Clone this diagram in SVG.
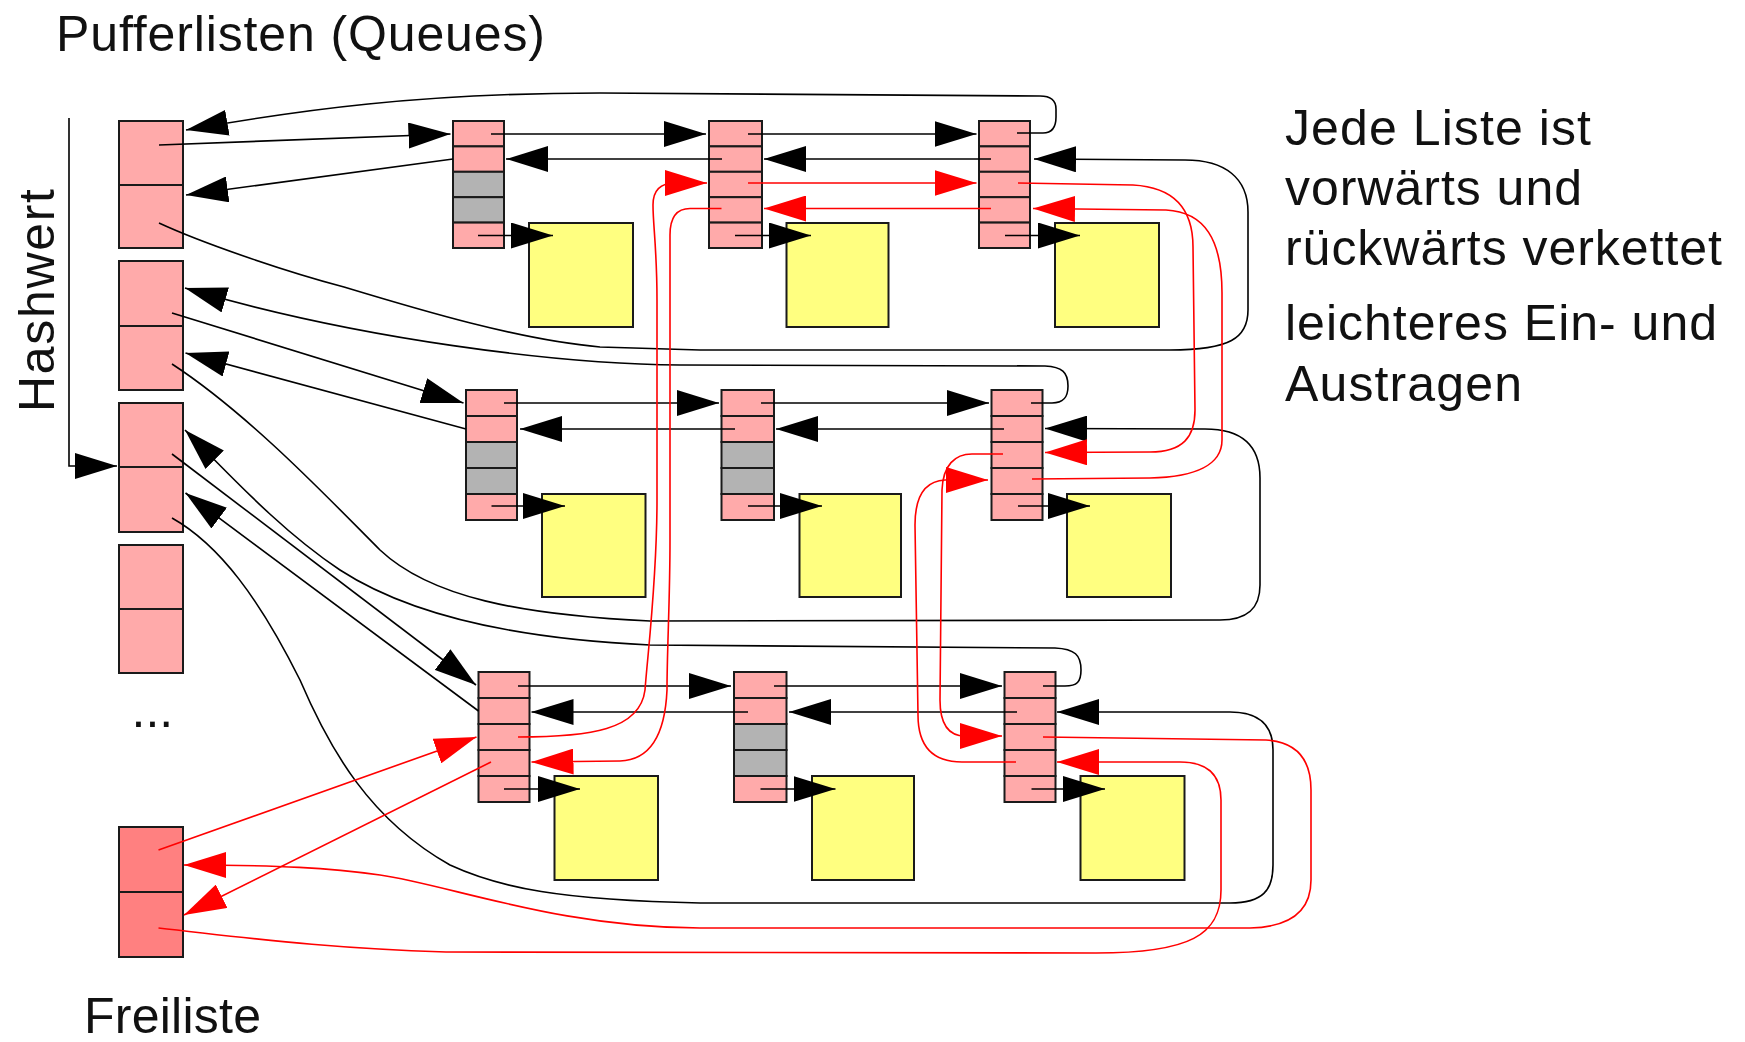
<svg xmlns="http://www.w3.org/2000/svg" width="1745" height="1042" viewBox="0 0 1745 1042">
  <style>
    .cell { fill: #ffaaaa; stroke: #1a1a1a; stroke-width: 2; }
    .grey { fill: #b3b3b3; }
    .free { fill: #ff8080; }
    .data { fill: #ffff80; stroke: #1a1a1a; stroke-width: 2; }
    .bk { fill: none; stroke: #000; stroke-width: 1.6; marker-end: url(#ab); }
    .rd { fill: none; stroke: #ff0000; stroke-width: 1.6; marker-end: url(#ar); }
    .txt { font-family: "Liberation Sans", Arial, Helvetica, sans-serif; font-size: 50px; fill: #111; }
  </style>
  <defs>
    <marker id="ab" markerUnits="userSpaceOnUse" markerWidth="42" markerHeight="26" viewBox="0 0 42 26" refX="42" refY="13" orient="auto">
      <path d="M0,0 L42,13 L0,26 Z" fill="#000"/>
    </marker>
    <marker id="ar" markerUnits="userSpaceOnUse" markerWidth="42" markerHeight="26" viewBox="0 0 42 26" refX="42" refY="13" orient="auto">
      <path d="M0,0 L42,13 L0,26 Z" fill="#ff0000"/>
    </marker>
  </defs>
  <rect width="1745" height="1042" fill="#fff"/>

  <!-- labels -->
  <text class="txt" x="56" y="51" textLength="489" lengthAdjust="spacing">Pufferlisten (Queues)</text>
  <text class="txt" transform="translate(54,412) rotate(-90)" x="0" y="0" textLength="223" lengthAdjust="spacing">Hashwert</text>
  <text class="txt" x="131.5" y="727">...</text>
  <text class="txt" x="84" y="1033" textLength="177" lengthAdjust="spacing">Freiliste</text>
  <g id="note">
    <text class="txt" x="1285" y="145" textLength="306" lengthAdjust="spacing">Jede Liste ist</text>
    <text class="txt" x="1285" y="205" textLength="297" lengthAdjust="spacing">vorwärts und</text>
    <text class="txt" x="1285" y="265" textLength="437" lengthAdjust="spacing">rückwärts verkettet</text>
    <text class="txt" x="1285" y="340" textLength="432" lengthAdjust="spacing">leichteres Ein- und</text>
    <text class="txt" x="1285" y="401" textLength="237" lengthAdjust="spacing">Austragen</text>
  </g>

  <!-- hash table buckets (head / tail) -->
  <g id="bucket1"><rect class="cell" x="119" y="121" width="64" height="64"/><rect class="cell" x="119" y="185" width="64" height="63"/></g>
  <g id="bucket2"><rect class="cell" x="119" y="261" width="64" height="65"/><rect class="cell" x="119" y="326" width="64" height="64"/></g>
  <g id="bucket3"><rect class="cell" x="119" y="403" width="64" height="64"/><rect class="cell" x="119" y="467" width="64" height="65"/></g>
  <g id="bucket4"><rect class="cell" x="119" y="545" width="64" height="64"/><rect class="cell" x="119" y="609" width="64" height="64"/></g>
  <g id="freelist"><rect class="cell free" x="119" y="827" width="64" height="65"/><rect class="cell free" x="119" y="892" width="64" height="65"/></g>

  <!-- buffer headers, row 1 -->
  <g id="l1n1">
    <rect class="cell" x="453" y="121" width="51" height="25.4"/><rect class="cell" x="453" y="146.4" width="51" height="25.4"/>
    <rect class="cell grey" x="453" y="171.8" width="51" height="25.4"/><rect class="cell grey" x="453" y="197.2" width="51" height="25.4"/>
    <rect class="cell" x="453" y="222.6" width="51" height="25.4"/>
  </g>
  <g id="l1n2">
    <rect class="cell" x="709" y="121" width="53" height="25.4"/><rect class="cell" x="709" y="146.4" width="53" height="25.4"/>
    <rect class="cell" x="709" y="171.8" width="53" height="25.4"/><rect class="cell" x="709" y="197.2" width="53" height="25.4"/>
    <rect class="cell" x="709" y="222.6" width="53" height="25.4"/>
  </g>
  <g id="l1n3">
    <rect class="cell" x="979" y="121" width="51" height="25.4"/><rect class="cell" x="979" y="146.4" width="51" height="25.4"/>
    <rect class="cell" x="979" y="171.8" width="51" height="25.4"/><rect class="cell" x="979" y="197.2" width="51" height="25.4"/>
    <rect class="cell" x="979" y="222.6" width="51" height="25.4"/>
  </g>
  <g id="d11"><rect class="data" x="529" y="223" width="104" height="104"/></g>
  <g id="d12"><rect class="data" x="786.5" y="223" width="102" height="104"/></g>
  <g id="d13"><rect class="data" x="1055" y="223" width="104" height="104"/></g>

  <!-- row 2 -->
  <g id="l2n1">
    <rect class="cell" x="466" y="390" width="51" height="26"/><rect class="cell" x="466" y="416" width="51" height="26"/>
    <rect class="cell grey" x="466" y="442" width="51" height="26"/><rect class="cell grey" x="466" y="468" width="51" height="26"/>
    <rect class="cell" x="466" y="494" width="51" height="26"/>
  </g>
  <g id="l2n2">
    <rect class="cell" x="721.5" y="390" width="52.5" height="26"/><rect class="cell" x="721.5" y="416" width="52.5" height="26"/>
    <rect class="cell grey" x="721.5" y="442" width="52.5" height="26"/><rect class="cell grey" x="721.5" y="468" width="52.5" height="26"/>
    <rect class="cell" x="721.5" y="494" width="52.5" height="26"/>
  </g>
  <g id="l2n3">
    <rect class="cell" x="991.5" y="390" width="51" height="26"/><rect class="cell" x="991.5" y="416" width="51" height="26"/>
    <rect class="cell" x="991.5" y="442" width="51" height="26"/><rect class="cell" x="991.5" y="468" width="51" height="26"/>
    <rect class="cell" x="991.5" y="494" width="51" height="26"/>
  </g>
  <g id="d21"><rect class="data" x="542" y="494" width="103.5" height="103"/></g>
  <g id="d22"><rect class="data" x="799.5" y="494" width="101.5" height="103"/></g>
  <g id="d23"><rect class="data" x="1067" y="494" width="104" height="103"/></g>

  <!-- row 3 -->
  <g id="l3n1">
    <rect class="cell" x="478.5" y="672" width="51" height="26"/><rect class="cell" x="478.5" y="698" width="51" height="26"/>
    <rect class="cell" x="478.5" y="724" width="51" height="26"/><rect class="cell" x="478.5" y="750" width="51" height="26"/>
    <rect class="cell" x="478.5" y="776" width="51" height="26"/>
  </g>
  <g id="l3n2">
    <rect class="cell" x="734" y="672" width="52.5" height="26"/><rect class="cell" x="734" y="698" width="52.5" height="26"/>
    <rect class="cell grey" x="734" y="724" width="52.5" height="26"/><rect class="cell grey" x="734" y="750" width="52.5" height="26"/>
    <rect class="cell" x="734" y="776" width="52.5" height="26"/>
  </g>
  <g id="l3n3">
    <rect class="cell" x="1004.5" y="672" width="51" height="26"/><rect class="cell" x="1004.5" y="698" width="51" height="26"/>
    <rect class="cell" x="1004.5" y="724" width="51" height="26"/><rect class="cell" x="1004.5" y="750" width="51" height="26"/>
    <rect class="cell" x="1004.5" y="776" width="51" height="26"/>
  </g>
  <g id="d31"><rect class="data" x="554.5" y="776" width="103.5" height="104"/></g>
  <g id="d32"><rect class="data" x="812" y="776" width="102" height="104"/></g>
  <g id="d33"><rect class="data" x="1080.5" y="776" width="104" height="104"/></g>

  <g id="connectors">
    <!-- hash value selects a bucket -->
    <path class="bk" d="M69,118 L69,466 L117,466"/>

    <!-- row 1 links -->
    <path class="bk" d="M491,134 L706,134"/>
    <path class="bk" d="M722,159 L506,159"/>
    <path class="bk" d="M748,134 L976.5,134"/>
    <path class="bk" d="M991,159 L764,159"/>
    <path class="bk" d="M478,235.5 L553,235.5"/>
    <path class="bk" d="M735,235.5 L811,235.5"/>
    <path class="bk" d="M1005,235.5 L1080,235.5"/>

    <!-- row 2 links -->
    <path class="bk" d="M504,403 L719,403"/>
    <path class="bk" d="M735,429 L520,429"/>
    <path class="bk" d="M761,403 L989,403"/>
    <path class="bk" d="M1004,429 L776,429"/>
    <path class="bk" d="M491.5,506 L565,506"/>
    <path class="bk" d="M748,506 L822,506"/>
    <path class="bk" d="M1018,506 L1090,506"/>

    <!-- row 3 links -->
    <path class="bk" d="M518,686 L731,686"/>
    <path class="bk" d="M748,712 L531.5,712"/>
    <path class="bk" d="M774,686 L1002,686"/>
    <path class="bk" d="M1017,712 L789,712"/>
    <path class="bk" d="M504,789 L580,789"/>
    <path class="bk" d="M760.5,789 L835.5,789"/>
    <path class="bk" d="M1031.5,789 L1105,789"/>

    <!-- bucket heads and first-node back pointers -->
    <path class="bk" d="M159,145 L450.5,134"/>
    <path class="bk" d="M453,159 L186,195"/>
    <path class="bk" d="M172,313 L463.5,403"/>
    <path class="bk" d="M466,429 L185.5,353"/>
    <path class="bk" d="M172,454 L476,685"/>
    <path class="bk" d="M478.5,711 L185.5,493"/>

    <!-- last node back to bucket / bucket tail to last node -->
    <path class="bk" d="M1017,133 L1043,133 C1052,133 1056,127 1056,117 L1056,109 C1056,100 1050,96 1040,96 L600,93 C420,93 300,110 186,130"/>
    <path class="bk" d="M159,223 C200,242 280,270 344,287 C420,310 520,340 600,347 L700,350 L1170,350 C1230,350 1248,338 1248,310 L1248,212 C1248,178 1225,160 1185,160 L1034,159"/>
    <path class="bk" d="M1031,403 L1052,403 C1064,403 1068,397 1068,386 C1068,372 1062,367 1045,366 L680,365 C560,364 360,340 185,288"/>
    <path class="bk" d="M172,364 C250,415 330,500 380,550 C430,597 520,615 650,621 L1220,620 C1248,620 1260,608 1260,585 L1260,478 C1260,447 1243,429 1205,429 L1045,428.5"/>
    <path class="bk" d="M1043,686 L1065,686 C1077,686 1081,682 1081,670 C1081,655 1075,649 1055,648 L650,645 C540,640 420,622 340,570 C280,530 230,475 185,430"/>
    <path class="bk" d="M172,518 C220,545 260,600 300,680 C330,750 370,820 450,865 C500,888 560,900 700,903 L1230,903 C1263,903 1273,890 1273,865 L1273,750 C1273,726 1260,712 1230,712 L1057,712"/>

    <!-- free list (red) -->
    <path class="rd" d="M158.5,850 L476.5,737"/>
    <path class="rd" d="M491,762 L184,915"/>
    <path class="rd" d="M518,737 C590,737 640,730 645,690 C648,650 657,580 657,500 L657,300 C657,250 653,225 653,205 C653,190 660,183 675,183 L707,183"/>
    <path class="rd" d="M721.5,208.5 L690,208.5 C676,208.5 670,218 670,235 L670,540 C670,600 667,650 667,690 C665,735 650,760 620,761 L531.5,762"/>
    <path class="rd" d="M748,183 L976.5,183"/>
    <path class="rd" d="M991,208.5 L764,208.5"/>
    <path class="rd" d="M1018,183 L1133,185 C1170,187 1193,205 1193,247 L1195,410 C1195,437 1183,452 1150,452 L1045,452.5"/>
    <path class="rd" d="M1032,479 L1150,478 C1195,477 1222,465 1222,440 L1222,293 C1222,240 1205,212 1166,210 L1033,208.5"/>
    <path class="rd" d="M1003,454 L972,454 C955,454 943,465 942,490 L940,700 C940,724 948,736 965,736 L1002,736"/>
    <path class="rd" d="M1016,762 L962,762 C932,762 918,745 918,715 L915,525 C915,497 925,481 945,480 L988,480"/>
    <path class="rd" d="M1043,737 L1266,740 C1298,742 1311,760 1311,790 L1311,880 C1311,912 1290,927 1250,928 L700,928 C560,928 450,885 380,875 C330,868 280,865 184,865"/>
    <path class="rd" d="M158.5,928 C250,938 320,948 446,952 L1096,953 C1190,953 1221,935 1221,890 L1221,800 C1221,775 1208,762 1180,762 L1057,762"/>
  </g>
</svg>
